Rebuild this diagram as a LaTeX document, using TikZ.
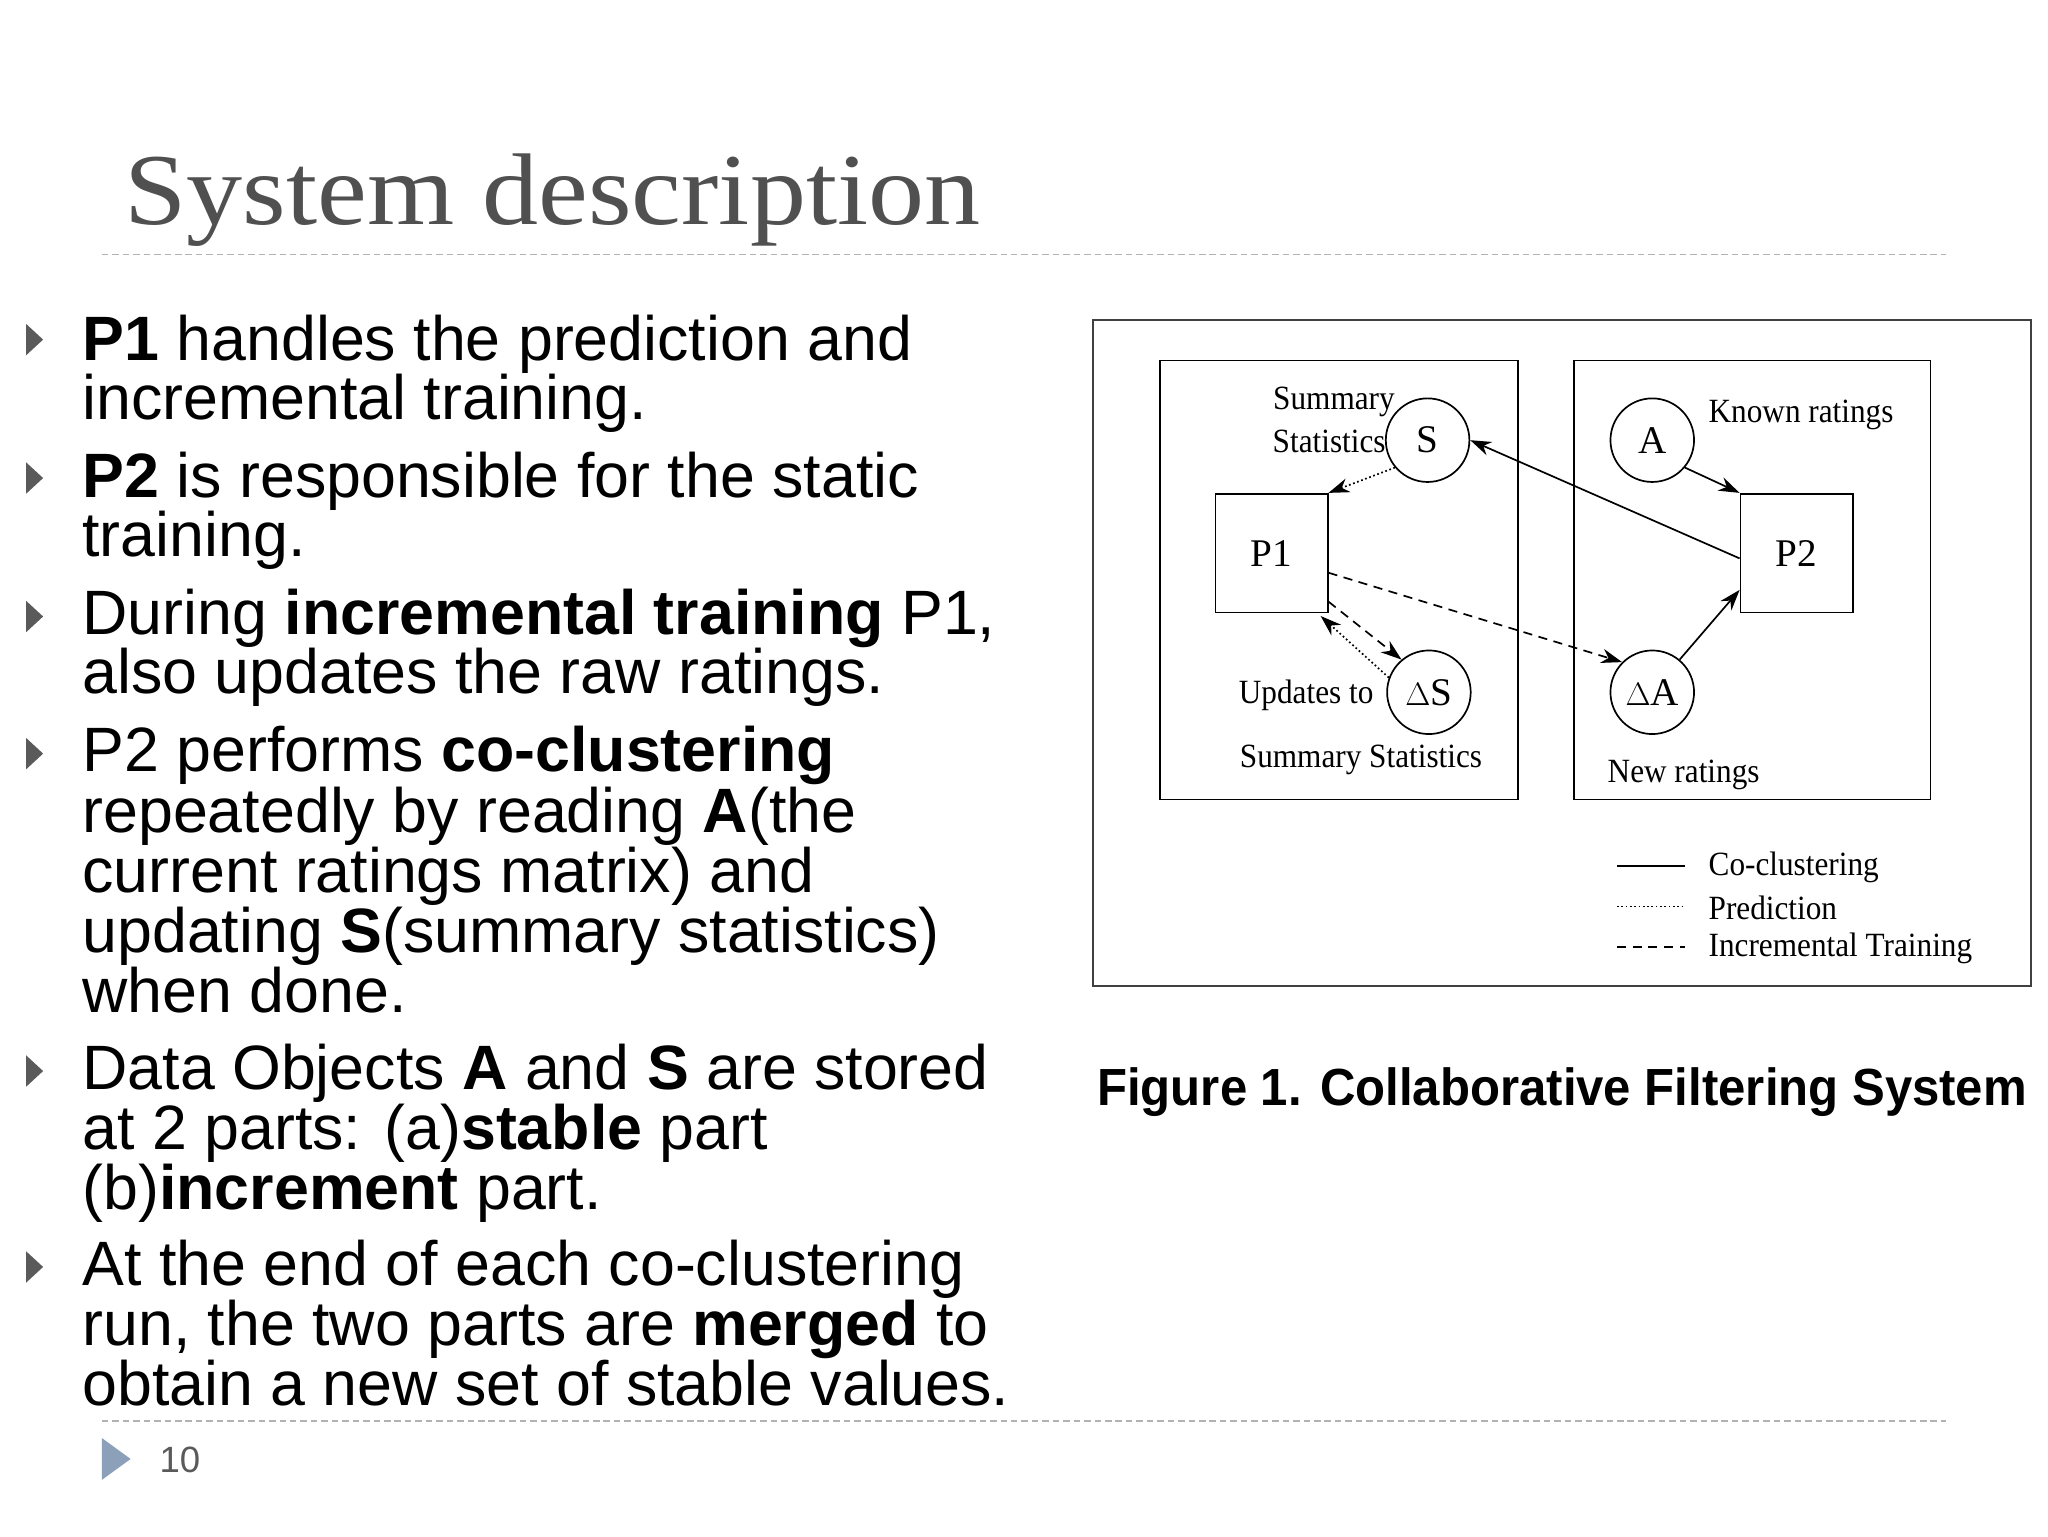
\documentclass[tikz,border=0pt]{standalone}
\usepackage{fontspec}
\setmainfont{Liberation Sans}
\newfontfamily\serifT{Liberation Serif}
\usetikzlibrary{arrows.meta}
\definecolor{titlegray}{RGB}{80,80,80}
\definecolor{bulgray}{RGB}{90,90,90}
\definecolor{pagetri}{RGB}{140,160,185}
\begin{document}
\begin{tikzpicture}[x=1pt,y=-1pt,
  body/.style={anchor=base west,inner sep=0,font=\fontsize{48}{48}\selectfont},
  dia/.style={inner sep=0,xscale=0.92,font=\serifT\fontsize{26}{27}\selectfont},
  circ/.style={draw,circle,minimum size=64,inner sep=0,line width=1.3,font=\serifT\fontsize{30}{30}\selectfont},
  pbox/.style={draw,minimum width=86,minimum height=91,inner sep=0,line width=1.3,font=\serifT\fontsize{30}{30}\selectfont},
  arr/.style={line width=1.3,-{Stealth[length=16,width=11]}},
  dotl/.style={dotted},
  dashl/.style={dash pattern=on 7pt off 5pt},
  sep/.style={draw=gray!60,dash pattern=on 5pt off 3pt,line width=1}]
\useasboundingbox[fill=white] (0,0) rectangle (1568,1176);
% title
\node[anchor=base west,inner sep=0,text=titlegray,xscale=1.1,font=\serifT\fontsize{78}{78}\selectfont] (title) at (95,172) {System description};
\draw[sep] (78,195) -- (1490,195);
\draw[sep] (78,1088) -- (1490,1088);
\fill[pagetri] (78,1101) -- (100,1117) -- (78,1133) -- cycle;
\node[anchor=base west,inner sep=0,text=bulgray,font=\fontsize{28}{28}\selectfont] (pg) at (122,1127) {10};
% bullets
\foreach \y in {260,366,472,577,820,970}
  \fill[bulgray] (20,\y-12) -- (33,\y) -- (20,\y+12) -- cycle;
\node[body] (l1) at (63,276) {\textbf{P1} handles the prediction and};
\node[body] (l2) at (63,321) {incremental training.};
\node[body] (l3) at (63,381) {\textbf{P2} is responsible for the static};
\node[body] (l4) at (63,426) {training.};
\node[body] (l5) at (63,486) {During \textbf{incremental training} P1,};
\node[body] (l6) at (63,531) {also updates the raw ratings.};
\node[body] (l7) at (63,591) {P2 performs \textbf{co-clustering}};
\node[body] (l8) at (63,637) {repeatedly by reading \textbf{A}(the};
\node[body] (l9) at (63,683) {current ratings matrix) and};
\node[body] (l10) at (63,729) {updating \textbf{S}(summary statistics)};
\node[body] (l11) at (63,775) {when done.};
\node[body] (l12) at (63,834) {Data Objects \textbf{A} and \textbf{S} are stored};
\node[body] (l13) at (63,880) {at 2 parts: (a)\textbf{stable} part};
\node[body] (l14) at (63,926) {(b)\textbf{increment} part.};
\node[body] (l15) at (63,984) {At the end of each co-clustering};
\node[body] (l16) at (63,1030) {run, the two parts are \textbf{merged} to};
\node[body] (l17) at (63,1076) {obtain a new set of stable values.};
% diagram
\draw[line width=1.5,draw=black!75] (837,245) rectangle (1555,755);
\draw[line width=1.3] (888,276) rectangle (1162,612);
\draw[line width=1.3] (1205,276) rectangle (1478,612);
\node[pbox] (P1) at (973.5,423.5) {P1};
\node[pbox] (P2) at (1375.5,423.5) {P2};
\node[circ] (S) at (1093,337) {S};
\node[circ] (dS) at (1094,530) {$\Delta$S};
\node[circ] (A) at (1265,337) {A};
\node[circ] (dA) at (1265,530) {$\Delta$A};
\node[dia,anchor=east] (sum1) at (1068,308) {Summary};
\node[dia,anchor=east] (sum2) at (1061,338) {Statistics};
\node[dia,anchor=west] (known) at (1308,318) {Known ratings};
\node[dia] (upd) at (1000,532) {Updates to};
\node[dia] (sumst) at (1042,582) {Summary Statistics};
\node[dia] (newr) at (1289,593) {New ratings};
% arrows
\draw[arr,dotl] (S.220) -- (P1.north east);
\draw[arr] ([yshift=-4]P2.west) -- (S.east);
\draw[arr] (A.-40) -- (P2.north west);
\draw[arr] (dA.50) -- ([yshift=18]P2.south west);
\draw[arr,dashl] ([yshift=-15]P1.east) -- (dA.north west);
\draw[arr,dashl] ([yshift=9]P1.south east) -- (dS.130);
\draw[arr,dotl] (dS.160) -- ([xshift=-6,yshift=-2]P1.south east);
% legend
\coordinate (la1) at (1238,663); \coordinate (la2) at (1290,663);
\coordinate (lb1) at (1238,694); \coordinate (lb2) at (1290,694);
\coordinate (lc1) at (1238,725); \coordinate (lc2) at (1290,725);
\draw[line width=1.3] (la1) -- (la2);
\draw[line width=1.3,dotl] (lb1) -- (lb2);
\draw[line width=1.3,dashl] (lc1) -- (lc2);
\node[dia,anchor=west] (lg1) at (1308,664) {Co{-}clustering};
\node[dia,anchor=west] (lg2) at (1308,695) {Prediction};
\node[dia,anchor=west] (lg3) at (1308,726) {Incremental Training};
\node[inner sep=0,font=\bfseries\fontsize{40}{40}\selectfont,xscale=0.94] (cap) at (1196,836) {Figure 1. Collaborative Filtering System};
\end{tikzpicture}
\end{document}
